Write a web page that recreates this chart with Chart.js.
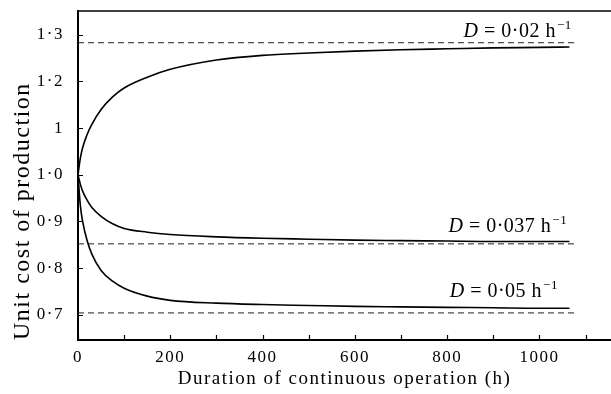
<!DOCTYPE html>
<html>
<head>
<meta charset="utf-8">
<script src="https://cdn.jsdelivr.net/npm/chart.js@4/dist/chart.umd.min.js"></script>
<style>
  html, body { margin: 0; padding: 0; background: #fff; }
  #wrap { width: 611px; height: 394px; }
</style>
</head>
<body>
<div id="wrap"><canvas id="c" width="611" height="394"></canvas></div>
<script>
// hours of continuous operation
const hours = [0, 5, 10, 20, 30, 50, 75, 100, 150, 200, 300, 400, 500, 600, 700, 800, 900, 1000, 1065];
// unit cost for each dilution rate
const costD002 = [1.0, 1.035, 1.058, 1.087, 1.108, 1.14, 1.167, 1.186, 1.209, 1.226, 1.246, 1.256, 1.261, 1.265, 1.268, 1.270, 1.272, 1.273, 1.274];
const costD0037 = [1.0, 0.98, 0.965, 0.945, 0.93, 0.911, 0.895, 0.885, 0.877, 0.872, 0.867, 0.864, 0.862, 0.860, 0.859, 0.858, 0.857, 0.857, 0.857];
const costD005 = [1.0, 0.935, 0.90, 0.858, 0.83, 0.795, 0.772, 0.757, 0.740, 0.731, 0.725, 0.722, 0.72, 0.718, 0.717, 0.716, 0.715, 0.714, 0.714];
// asymptotes (dashed)
const asymptotes = [1.283, 0.852, 0.704];
const asymptoteEnd = 1075;
const rateLabels = ['0·02', '0·037', '0·05'];

const xTickValues = [0, 100, 200, 300, 400, 500, 600, 700, 800, 900, 1000, 1100];
const xTickLabels = ['0', '', '200', '', '400', '', '600', '', '800', '', '1000', ''];
const yTickValues = [0.7, 0.8, 0.9, 1.0, 1.1, 1.2, 1.3];
const yTickLabels = ['0·7', '0·8', '0·9', '1·0', '1', '1·2', '1·3'];

const serif = '"Liberation Serif", "DejaVu Serif", serif';

function pts(ys) {
  return hours.map((h, i) => ({ x: h, y: ys[i] }));
}

const curveStyle = { borderColor: '#000', borderWidth: 1.6, pointRadius: 0, fill: false, cubicInterpolationMode: 'monotone' };
const dashStyle = { borderColor: '#222', borderWidth: 1, pointRadius: 0, fill: false, borderDash: [6, 4] };

const datasets = [
  Object.assign({ data: pts(costD002) }, curveStyle),
  Object.assign({ data: pts(costD0037) }, curveStyle),
  Object.assign({ data: pts(costD005) }, curveStyle)
];
asymptotes.forEach(v => {
  datasets.push(Object.assign({ data: [{ x: 0, y: v }, { x: asymptoteEnd, y: v }] }, dashStyle));
});

// the printed lettering is set wider than Liberation Serif, so space it out a bit
const spacing = {
  id: 'spacing',
  beforeDraw(chart) { chart.ctx.letterSpacing = '1.5px'; },
  beforeDatasetsDraw(chart) { chart.ctx.letterSpacing = '0px'; }
};

// inward ticks, top frame line and the D = ... labels
const decor = {
  id: 'decor',
  afterDatasetsDraw(chart) {
    const c = chart.ctx;
    const a = chart.chartArea;
    const xs = chart.scales.x, ys = chart.scales.y;
    c.save();
    c.strokeStyle = '#000';
    c.lineWidth = 1.2;
    c.beginPath();
    xTickValues.forEach(v => {
      const px = Math.round(xs.getPixelForValue(v)) + 0.5;
      c.moveTo(px, a.bottom);
      c.lineTo(px, a.bottom - 5);
    });
    yTickValues.forEach(v => {
      const py = Math.round(ys.getPixelForValue(v)) + 0.5;
      c.moveTo(a.left, py);
      c.lineTo(a.left + 5, py);
    });
    c.stroke();
    c.lineWidth = 1.5;
    c.beginPath();
    c.moveTo(a.left, a.top);
    c.lineTo(a.right, a.top);
    c.stroke();

    // labels: right-aligned, just above each asymptote
    const labelY = [1.296, 0.878, 0.739];
    const labelEnd = [1070, 1060, 1040];
    c.fillStyle = '#000';
    c.textBaseline = 'alphabetic';
    c.letterSpacing = '0.5px';
    rateLabels.forEach((r, i) => {
      const by = ys.getPixelForValue(labelY[i]);
      const rightX = xs.getPixelForValue(labelEnd[i]);
      const fItal = 'italic 20px ' + serif;
      const fMain = '20px ' + serif;
      const fSup = '13px ' + serif;
      const p1 = 'D', p2 = ' = ' + r + ' h', p3 = '\u22121';
      c.font = fItal; const w1 = c.measureText(p1).width;
      c.font = fMain; const w2 = c.measureText(p2).width;
      c.font = fSup; const w3 = c.measureText(p3).width;
      let x = rightX - (w1 + w2 + w3 + 1);
      c.font = fItal; c.fillText(p1, x, by); x += w1;
      c.font = fMain; c.fillText(p2, x, by); x += w2 + 1;
      c.font = fSup; c.fillText(p3, x, by - 8);
    });
    c.restore();
  }
};

new Chart(document.getElementById('c'), {
  type: 'line',
  data: { datasets: datasets },
  plugins: [spacing, decor],
  options: {
    responsive: false,
    animation: false,
    events: [],
    layout: { padding: { top: 11, right: 0, bottom: 0, left: 0 } },
    plugins: { legend: { display: false }, tooltip: { enabled: false } },
    scales: {
      x: {
        type: 'linear',
        min: 0,
        max: 1155,
        afterBuildTicks: s => { s.ticks = xTickValues.map(v => ({ value: v })); },
        afterFit: s => { s.height = 54; },
        ticks: {
          autoSkip: false,
          maxRotation: 0,
          color: '#000',
          padding: 7,
          font: { family: serif, size: 17 },
          callback: (v, i) => xTickLabels[i]
        },
        grid: { display: false, drawTicks: false },
        border: { display: true, color: '#000', width: 2 },
        title: {
          display: true,
          text: 'Duration of continuous operation (h)',
          color: '#000',
          font: { family: serif, size: 19 },
          padding: { top: 0, bottom: 3.6 }
        }
      },
      y: {
        type: 'linear',
        min: 0.646,
        max: 1.351,
        afterBuildTicks: s => { s.ticks = yTickValues.map(v => ({ value: v })); },
        afterFit: s => { s.width = 78; s.paddingTop = 0; s.paddingBottom = 0; },
        ticks: {
          autoSkip: false,
          color: '#000',
          padding: 14,
          font: { family: serif, size: 17 },
          callback: (v, i) => yTickLabels[i]
        },
        grid: { display: false, drawTicks: false },
        border: { display: true, color: '#000', width: 2 },
        title: {
          display: true,
          align: 'start',
          text: 'Unit cost of production',
          color: '#000',
          font: { family: serif, size: 24 },
          padding: { top: 8, bottom: 0 }
        }
      }
    }
  }
});
</script>
</body>
</html>
